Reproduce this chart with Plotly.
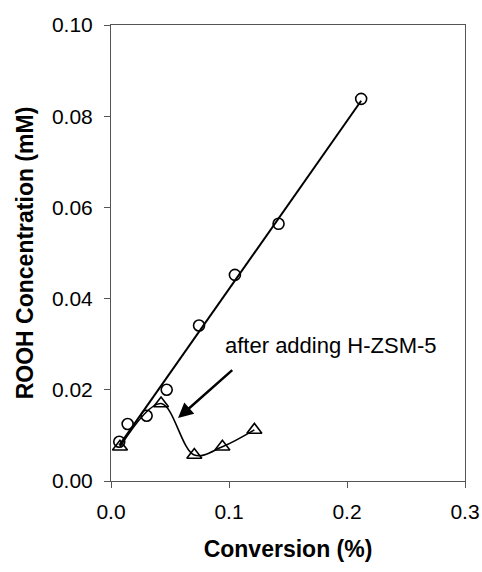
import numpy as np
import plotly.graph_objects as go

# Data
conv_before = [0.0070, 0.0141, 0.0302, 0.0472, 0.0746, 0.1050, 0.1420, 0.2120]
rooh_before = [0.0086, 0.0125, 0.0143, 0.0200, 0.0341, 0.0452, 0.0564, 0.0838]

conv_after = [0.0076, 0.0424, 0.0706, 0.0944, 0.1215]
rooh_after = [0.0075, 0.0170, 0.0057, 0.0075, 0.0112]

x_ticks = [0.0, 0.1, 0.2, 0.3]
x_tick_labels = ["0.0", "0.1", "0.2", "0.3"]
y_ticks = [0.00, 0.02, 0.04, 0.06, 0.08, 0.10]
y_tick_labels = ["0.00", "0.02", "0.04", "0.06", "0.08", "0.10"]

annotation_text = "after adding H-ZSM-5"

# Linear fit through the "before" data
slope, intercept = np.polyfit(conv_before, rooh_before, 1)
fit_x = np.array([min(conv_before), max(conv_before)])
fit_y = slope * fit_x + intercept

fig = go.Figure()

fig.add_trace(go.Scatter(
    x=fit_x, y=fit_y, mode="lines",
    line=dict(color="black", width=2), showlegend=False, hoverinfo="skip"))

fig.add_trace(go.Scatter(
    x=conv_before, y=rooh_before, mode="markers",
    marker=dict(symbol="circle-open", size=11, color="black", line=dict(width=1.6)),
    showlegend=False))

fig.add_trace(go.Scatter(
    x=conv_after, y=rooh_after, mode="lines+markers",
    line=dict(color="black", width=1.6, shape="spline", smoothing=1.0),
    marker=dict(symbol="triangle-up-open", size=13, color="black", line=dict(width=1.6)),
    showlegend=False))

fig.add_annotation(
    x=0.0568, y=0.0138, ax=0.104, ay=0.0246,
    xref="x", yref="y", axref="x", ayref="y",
    showarrow=True, arrowhead=2, arrowsize=1.2, arrowwidth=2.5, arrowcolor="black",
    text="")
fig.add_annotation(
    x=0.0945, y=0.0297, xref="x", yref="y", xanchor="left", yanchor="middle",
    showarrow=False, text=annotation_text,
    font=dict(family="Liberation Sans, Arial", size=22, color="black"))

axis_common = dict(
    showline=True, linecolor="#555555", linewidth=1, mirror=True,
    ticks="outside", ticklen=6, tickcolor="#555555",
    showgrid=False, zeroline=False, automargin=False,
    tickfont=dict(family="Liberation Sans, Arial", size=21, color="black"),
)

fig.update_xaxes(
    range=[0, 0.3], tickvals=x_ticks, ticktext=x_tick_labels,
    ticklabelstandoff=6,
    title=dict(text="<b>Conversion (%)</b>", standoff=18,
               font=dict(family="Liberation Sans, Arial", size=23, color="black")),
    **axis_common)
fig.update_yaxes(
    range=[0, 0.1], tickvals=y_ticks, ticktext=y_tick_labels,
    ticklabelstandoff=7,
    title=dict(text="<b>ROOH Concentration (mM)</b>", standoff=11,
               font=dict(family="Liberation Sans, Arial", size=23, color="black")),
    **axis_common)

fig.update_layout(
    width=482, height=572,
    margin=dict(l=111, r=17, t=25, b=91),
    plot_bgcolor="white", paper_bgcolor="white",
)

fig.write_html("out.html", config={"displayModeBar": False},
               post_script="document.body.style.margin='0';")
